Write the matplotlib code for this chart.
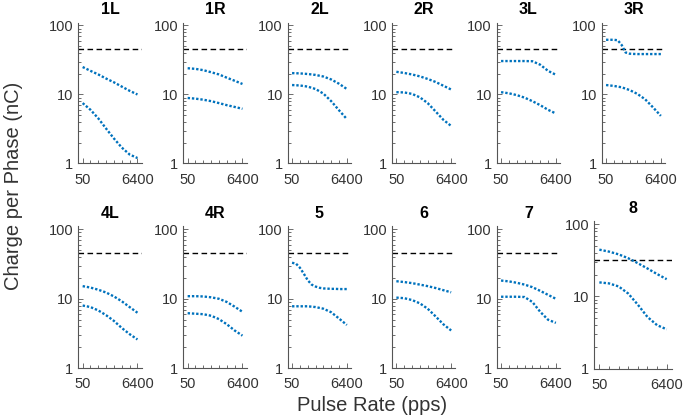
"""
Charge per phase vs pulse rate, one small log-log panel per electrode.
Upper / lower dotted curves per electrode, dashed line = charge limit.
"""

import matplotlib

matplotlib.use("Agg")
import matplotlib.pyplot as plt
from matplotlib.ticker import FixedLocator, NullFormatter

plt.rcParams["font.family"] = ["Liberation Sans", "DejaVu Sans"]

# ---------------------------------------------------------------------------
# Data
# ---------------------------------------------------------------------------

RATES = [50, 100, 200, 400, 800, 1600, 3200, 6400]
RATES_FINE = [50, 71, 100, 141, 200, 283, 400, 566, 800,
              1131, 1600, 2263, 3200, 4525, 6400]

PANELS = ["1L", "1R", "2L", "2R", "3L", "3R",
          "4L", "4R", "5", "6", "7", "8"]

UPPER = [
    [25, 22, 19.5, 17, 15, 13, 11.3, 10],             # 1L
    [24, 23.5, 22.5, 21, 19.5, 17.5, 15.8, 14.2],     # 1R
    [20.4, 20.2, 19.8, 19.2, 18.2, 16.5, 14.3, 12],   # 2L
    [21.3, 20.5, 19.5, 18.3, 16.8, 15.2, 13.4, 11.8], # 2R
    [30.5, 30.5, 30.5, 30.5, 30.3, 27, 22, 19.3],     # 3L
    [62, 62, 62, 61, 52, 40.5, 39, 38.7, 38.5,
     38.5, 38.5, 38.5, 38.5, 38.5, 38.5],             # 3R (fine)
    [15.2, 14.5, 13.5, 12.3, 10.8, 9.2, 7.6, 6.3],    # 4L
    [10.9, 10.9, 10.8, 10.5, 10, 9.0, 7.7, 6.5],      # 4R
    [33, 32, 28, 23, 18.5, 16, 15, 14.4, 14.1,
     14, 13.9, 13.9, 13.8, 13.8, 13.8],               # 5 (fine)
    [17.9, 17.4, 16.8, 16.0, 15.2, 14.3, 13.3, 12.4], # 6
    [18.3, 17.8, 17.0, 16.0, 14.7, 13.0, 11.4, 10.0], # 7
    [44.7, 42, 38.5, 34, 29, 24.5, 20.5, 17.4],       # 8
]

LOWER = [
    [7.5, 6, 4.5, 3.2, 2.3, 1.7, 1.35, 1.2],          # 1L
    [8.9, 8.7, 8.4, 8.0, 7.5, 7.0, 6.6, 6.2],         # 1R
    [13.7, 13.5, 13, 12, 10.3, 8, 5.9, 4.4],          # 2L
    [10.8, 10.7, 10.2, 9.1, 7.5, 5.7, 4.3, 3.5],      # 2R
    [10.8, 10.4, 9.8, 9.0, 8.0, 7.0, 6.0, 5.3],       # 3L
    [13.7, 13.3, 12.7, 11.6, 10.2, 8.5, 6.5, 4.9],    # 3R
    [8.0, 7.6, 6.8, 5.8, 4.8, 3.8, 3.1, 2.6],         # 4L
    [6.2, 6.1, 6.0, 5.7, 5.1, 4.3, 3.5, 2.95],        # 4R
    [7.8, 7.8, 7.8, 7.6, 7.2, 6.4, 5.2, 4.2],         # 5
    [10.4, 10.2, 9.6, 8.6, 7.2, 5.6, 4.3, 3.5],       # 6
    [10.7, 10.7, 10.7, 10.6, 9.0, 6.5, 5.0, 4.5],     # 7
    [15.7, 15.2, 13.8, 11, 7.7, 5.2, 4.0, 3.5],       # 8
]

LIMIT = [45] * 11 + [32.6]

# ---------------------------------------------------------------------------
# Layout (pixel boxes: left, top, right, bottom)
# ---------------------------------------------------------------------------

W, H = 685, 419
COL_LEFT = [78.3, 183.3, 287.7, 392, 496.7, 601.7]
AX_W = 63.5
BOXES = [(x, 22.6, x + AX_W, 163.5) for x in COL_LEFT]
BOXES += [(x, 226.4, x + AX_W, 368.3) for x in COL_LEFT[:5]]
BOXES += [(594, 221.5, 672, 368.5)]

BLUE = "#0072BD"
AXC = "#555555"


def style_axis(ax):
    ax.set_xscale("log", base=2)
    ax.set_yscale("log")
    ax.set_xlim(34, 9400)
    ax.set_ylim(1, 110)
    ax.spines[["top", "right"]].set_visible(False)
    for s in ("left", "bottom"):
        ax.spines[s].set_color(AXC)
        ax.spines[s].set_linewidth(0.8)

    ax.xaxis.set_major_locator(FixedLocator([50, 6400]))
    ax.set_xticklabels(["50", "6400"])
    ax.xaxis.set_minor_locator(FixedLocator(RATES[1:-1]))
    ax.xaxis.set_minor_formatter(NullFormatter())

    ax.yaxis.set_major_locator(FixedLocator([1, 10, 100]))
    ax.set_yticklabels(["1", "10", "100"])
    minors = [m * d for d in (1, 10) for m in range(2, 10)]
    ax.yaxis.set_minor_locator(FixedLocator(minors))
    ax.yaxis.set_minor_formatter(NullFormatter())

    ax.tick_params(which="both", direction="in", color=AXC, width=0.6,
                   labelsize=10.5, labelcolor="#333333")
    ax.tick_params(which="major", length=3.5)
    ax.tick_params(which="minor", length=2)
    ax.tick_params(axis="x", which="major", pad=6.5)
    ax.tick_params(axis="y", which="major", pad=3.5)


fig = plt.figure(figsize=(W / 100, H / 100), dpi=100)

for i, name in enumerate(PANELS):
    l, t, r, b = BOXES[i]
    ax = fig.add_axes([l / W, 1 - b / H, (r - l) / W, (b - t) / H])
    style_axis(ax)

    ax.axhline(LIMIT[i], color="black", lw=1.0, ls=(0, (4, 2.5)))
    for curve in (UPPER[i], LOWER[i]):
        x = RATES if len(curve) == len(RATES) else RATES_FINE
        ax.plot(x, curve, color=BLUE, lw=1.7, ls=(0, (1, 0.8)))

    ax.set_title(name, fontsize=11.5, fontweight="bold", pad=6)

fig.text(14 / W, 1 - 186 / H, "Charge per Phase (nC)", rotation=90,
         ha="center", va="center", fontsize=14.5, color="#333333")
fig.text(372 / W, 1 - 405 / H, "Pulse Rate (pps)",
         ha="center", va="center", fontsize=14.5, color="#333333")

fig.savefig("out.png", dpi=100)
